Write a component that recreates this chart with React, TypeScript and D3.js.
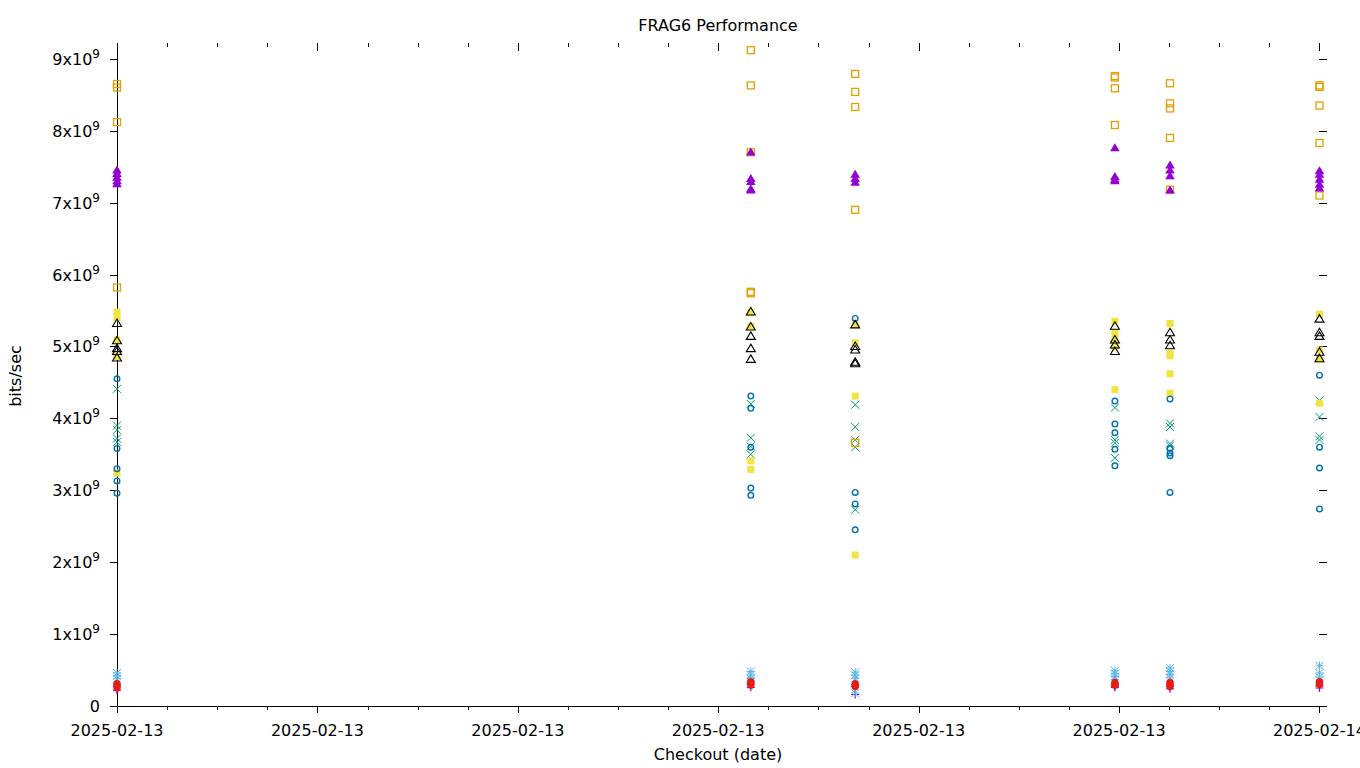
import React from "react";
import * as d3 from "d3";

// ---- data ----
const checkouts = [
  "2025-02-13T00:00:00Z",
  "2025-02-13T12:39:00Z",
  "2025-02-13T14:44:00Z",
  "2025-02-13T19:55:00Z",
  "2025-02-13T21:01:00Z",
  "2025-02-14T00:00:00Z",
];

const xDomain = ["2025-02-13T00:00:00Z", "2025-02-14T00:09:00Z"];
const yDomain = [0, 9.22e9];
const yTickValues = [0, 1e9, 2e9, 3e9, 4e9, 5e9, 6e9, 7e9, 8e9, 9e9];

// each series: values per checkout (bits/sec)
const s1Plus = [
  [0.30e9, 0.27e9, 0.22e9],
  [0.33e9, 0.30e9, 0.26e9],
  [0.30e9, 0.27e9, 0.16e9],
  [0.31e9, 0.28e9, 0.26e9],
  [0.30e9, 0.27e9, 0.24e9],
  [0.32e9, 0.28e9, 0.25e9],
];
const s2Cross = [
  [4.41e9, 3.90e9, 3.84e9, 3.72e9, 3.67e9],
  [4.20e9, 3.73e9, 3.61e9, 3.50e9],
  [4.19e9, 3.88e9, 3.70e9, 3.60e9, 2.73e9],
  [4.15e9, 3.70e9, 3.66e9, 3.45e9],
  [3.93e9, 3.88e9, 3.65e9, 3.62e9],
  [4.25e9, 4.02e9, 3.75e9, 3.70e9],
];
const s3Star = [
  [0.46e9, 0.42e9, 0.38e9],
  [0.48e9, 0.43e9, 0.38e9, 0.35e9],
  [0.47e9, 0.43e9, 0.38e9, 0.18e9],
  [0.49e9, 0.45e9, 0.41e9, 0.37e9],
  [0.53e9, 0.48e9, 0.44e9, 0.39e9],
  [0.56e9, 0.46e9, 0.40e9],
];
const s4OpenSquare = [
  [8.65e9, 8.60e9, 8.12e9, 5.82e9],
  [9.12e9, 8.63e9, 7.70e9, 5.76e9, 5.74e9],
  [8.79e9, 8.54e9, 8.33e9, 6.90e9, 3.66e9],
  [8.76e9, 8.74e9, 8.59e9, 8.08e9],
  [8.66e9, 8.38e9, 8.31e9, 7.90e9, 7.18e9],
  [8.63e9, 8.61e9, 8.35e9, 7.83e9, 7.10e9],
];
const s5FilledSquare = [
  [5.48e9, 5.40e9, 5.09e9, 4.86e9, 3.24e9],
  [5.47e9, 5.28e9, 3.41e9, 3.29e9],
  [5.30e9, 5.05e9, 4.31e9, 2.10e9],
  [5.35e9, 5.19e9, 5.10e9, 5.00e9, 4.40e9],
  [5.32e9, 4.90e9, 4.87e9, 4.62e9, 4.35e9],
  [5.45e9, 4.95e9, 4.82e9, 4.21e9],
];
const s6OpenCircle = [
  [4.55e9, 3.58e9, 3.30e9, 3.13e9, 2.96e9],
  [4.31e9, 4.14e9, 3.60e9, 3.03e9, 2.93e9],
  [5.39e9, 2.97e9, 2.81e9, 2.45e9],
  [4.24e9, 3.92e9, 3.80e9, 3.57e9, 3.34e9],
  [4.27e9, 3.58e9, 3.52e9, 3.48e9, 2.97e9],
  [4.60e9, 3.60e9, 3.31e9, 2.74e9],
];
const s7FilledCircle = [
  [0.31e9, 0.28e9, 0.25e9],
  [0.34e9, 0.31e9, 0.29e9],
  [0.31e9, 0.28e9, 0.27e9],
  [0.33e9, 0.30e9, 0.29e9],
  [0.33e9, 0.30e9, 0.27e9],
  [0.34e9, 0.31e9, 0.30e9],
];
const s8OpenTriangle = [
  [5.32e9, 5.08e9, 4.97e9, 4.93e9, 4.84e9],
  [5.48e9, 5.27e9, 5.14e9, 4.97e9, 4.82e9],
  [5.30e9, 5.00e9, 4.95e9, 4.78e9, 4.76e9],
  [5.28e9, 5.09e9, 5.02e9, 4.93e9],
  [5.19e9, 5.09e9, 5.01e9],
  [5.38e9, 5.19e9, 5.14e9, 4.92e9, 4.83e9],
];
const s9FilledTriangle = [
  [7.45e9, 7.40e9, 7.35e9, 7.30e9, 7.26e9],
  [7.70e9, 7.33e9, 7.29e9, 7.19e9, 7.17e9],
  [7.39e9, 7.33e9, 7.28e9],
  [7.76e9, 7.36e9, 7.32e9, 7.30e9],
  [7.52e9, 7.45e9, 7.37e9, 7.17e9],
  [7.44e9, 7.39e9, 7.32e9, 7.25e9, 7.20e9],
];

const seriesList = [
  { values: s1Plus, shape: "plus", color: "#9400d3" },
  { values: s2Cross, shape: "cross", color: "#009e73" },
  { values: s3Star, shape: "star", color: "#56b4e9" },
  { values: s4OpenSquare, shape: "osquare", color: "#e69f00" },
  { values: s5FilledSquare, shape: "fsquare", color: "#f0e442" },
  { values: s6OpenCircle, shape: "ocircle", color: "#0072b2" },
  { values: s7FilledCircle, shape: "fcircle", color: "#e51e10" },
  { values: s8OpenTriangle, shape: "otri", color: "#000000" },
  { values: s9FilledTriangle, shape: "ftri", color: "#9400d3" },
];

const FONT = "'DejaVu Sans', sans-serif";

function Marker({ shape, x, y, color }: { shape: string; x: number; y: number; color: string }) {
  const s = 4;
  switch (shape) {
    case "plus":
      return <path d={`M${x - s},${y}H${x + s}M${x},${y - s}V${y + s}`} stroke={color} strokeWidth={1.2} fill="none" />;
    case "cross":
      return <path d={`M${x - s},${y - s}L${x + s},${y + s}M${x - s},${y + s}L${x + s},${y - s}`} stroke={color} strokeWidth={1} fill="none" />;
    case "star":
      return (
        <path
          d={`M${x - s},${y}H${x + s}M${x},${y - s}V${y + s}M${x - s},${y - s}L${x + s},${y + s}M${x - s},${y + s}L${x + s},${y - s}`}
          stroke={color}
          strokeWidth={1}
          fill="none"
        />
      );
    case "osquare":
      return <rect x={x - 3.5} y={y - 3.5} width={7} height={7} stroke={color} strokeWidth={1.3} fill="none" />;
    case "fsquare":
      return <rect x={x - 3.5} y={y - 3.5} width={7} height={7} fill={color} />;
    case "ocircle":
      return <circle cx={x} cy={y} r={2.8} stroke={color} strokeWidth={1.4} fill="none" />;
    case "fcircle":
      return <circle cx={x} cy={y} r={3.6} fill={color} />;
    case "otri":
      return <path d={`M${x},${y - 4.5}L${x + 4.5},${y + 3}L${x - 4.5},${y + 3}Z`} stroke={color} strokeWidth={1.1} fill="none" />;
    case "ftri":
      return <path d={`M${x},${y - 4.8}L${x + 4.8},${y + 3.2}L${x - 4.8},${y + 3.2}Z`} fill={color} />;
    default:
      return null;
  }
}

export default function App() {
  const x = d3
    .scaleUtc()
    .domain(xDomain.map((d) => new Date(d)))
    .range([117, 1327]);
  const y = d3.scaleLinear().domain(yDomain).range([706, 43]);

  const xMajor = d3.utcHour.every(4)!.range(new Date(xDomain[0]), new Date(xDomain[1]));
  const xMinor = d3.utcHour.every(1)!.range(new Date(xDomain[0]), new Date(xDomain[1]));
  const fmt = d3.utcFormat("%Y-%m-%d");

  const [x0, x1] = x.range();
  const [yb, yt] = y.range();

  return (
    <div style={{ position: "fixed", left: 0, top: 0, width: 1360, height: 768, overflow: "hidden", background: "#fff" }}>
      <svg width={1360} height={768} style={{ display: "block" }} fontFamily={FONT}>
        <rect width={1360} height={768} fill="#fff" />
        {/* title and axis labels */}
        <text x={718} y={31} textAnchor="middle" fontSize={16} fill="#000">FRAG6 Performance</text>
        <text x={718} y={760} textAnchor="middle" fontSize={16} fill="#000">Checkout (date)</text>
        <text transform="translate(21,376) rotate(-90)" textAnchor="middle" fontSize={16} fill="#000">bits/sec</text>

        {/* axes */}
        <g shapeRendering="crispEdges" stroke="#000" strokeWidth={1}>
          <line x1={x0} x2={x0} y1={yt} y2={yb} />
          <line x1={x0} x2={x1} y1={yb} y2={yb} />
          {xMinor.map((d, i) => {
            const px = Math.round(x(d)) + 0.5;
            return (
              <g key={"mn" + i}>
                <line x1={px} x2={px} y1={yb} y2={yb + 4} />
                <line x1={px} x2={px} y1={yt} y2={yt + 4} />
              </g>
            );
          })}
          {xMajor.map((d, i) => {
            const px = Math.round(x(d)) + 0.5;
            return (
              <g key={"mj" + i}>
                <line x1={px} x2={px} y1={yb} y2={yb + 7} />
                <line x1={px} x2={px} y1={yt} y2={yt + 8} />
              </g>
            );
          })}
          {yTickValues.map((v, i) => {
            const py = Math.round(y(v)) + 0.5;
            return (
              <g key={"yt" + i}>
                <line x1={x0 - 7} x2={x0} y1={py} y2={py} />
                <line x1={x1 - 8} x2={x1} y1={py} y2={py} />
              </g>
            );
          })}
        </g>

        {/* tick labels */}
        {xMajor.map((d, i) => (
          <text key={"xl" + i} x={x(d)} y={736} textAnchor="middle" fontSize={16} fill="#000">
            {fmt(d)}
          </text>
        ))}
        {yTickValues.map((v, i) => (
          <text key={"yl" + i} x={100} y={y(v) + 6} textAnchor="end" fontSize={16} fill="#000">
            {v === 0 ? (
              "0"
            ) : (
              <>
                <tspan>{`${v / 1e9}x10`}</tspan>
                <tspan dy={-7} fontSize={12}>9</tspan>
              </>
            )}
          </text>
        ))}

        {/* points */}
        {seriesList.map((s, si) => (
          <g key={"s" + si}>
            {s.values.map((vals, ci) =>
              vals.map((v, k) => (
                <Marker key={ci + "-" + k} shape={s.shape} x={x(new Date(checkouts[ci]))} y={y(v)} color={s.color} />
              ))
            )}
          </g>
        ))}
      </svg>
    </div>
  );
}
